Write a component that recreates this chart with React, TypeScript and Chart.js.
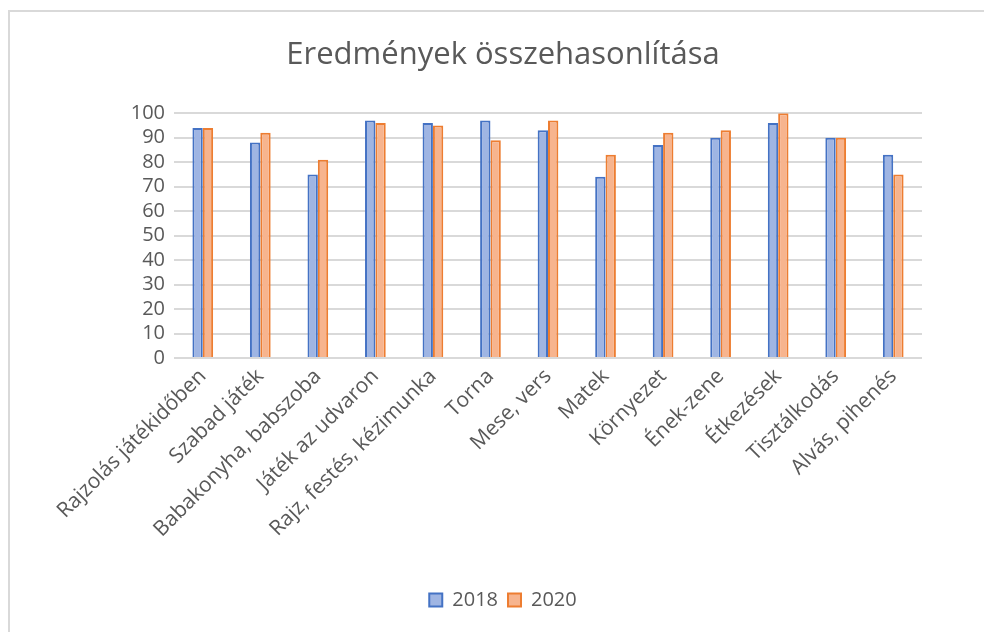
import React, { useEffect, useRef } from "react";
import { Chart, registerables } from "chart.js";

Chart.register(...registerables);

const categories = [
  "Rajzolás játékidőben",
  "Szabad játék",
  "Babakonyha, babszoba",
  "Játék az udvaron",
  "Rajz, festés, kézimunka",
  "Torna",
  "Mese, vers",
  "Matek",
  "Környezet",
  "Ének-zene",
  "Étkezések",
  "Tisztálkodás",
  "Alvás, pihenés",
];
const values2018 = [94, 88, 75, 97, 96, 97, 93, 74, 87, 90, 96, 90, 83];
const values2020 = [94, 92, 81, 96, 95, 89, 97, 83, 92, 93, 100, 90, 75];
const seriesNames = ["2018", "2020"];
const titleText = "Eredmények összehasonlítása";

const FONT = "'Open Sans', 'Noto Sans', sans-serif";
const GRAY = "#595959";

export default function App() {
  const ref = useRef<HTMLCanvasElement | null>(null);
  useEffect(() => {
    if (!ref.current) return;
    const chart = new Chart(ref.current, {
      type: "bar",
      data: {
        labels: categories,
        datasets: [
          {
            label: seriesNames[0],
            data: values2018,
            backgroundColor: "#9fb5e3",
            borderColor: "#4472c4",
            borderWidth: 2,
            categoryPercentage: 0.36,
            barPercentage: 1.0,
            yAxisID: "y",
          },
          {
            label: seriesNames[1],
            data: values2020,
            backgroundColor: "#f7b48e",
            borderColor: "#ed7d31",
            borderWidth: 2,
            categoryPercentage: 0.36,
            barPercentage: 1.0,
            yAxisID: "y",
          },
        ],
      },
      options: {
        responsive: false,
        animation: false,
        layout: { padding: { left: 12, right: 0, top: 8, bottom: 12 } },
        plugins: {
          title: {
            display: true,
            text: titleText,
            color: GRAY,
            font: { family: FONT, size: 31, weight: "normal" },
            padding: { top: 17, bottom: 39 },
          },
          legend: {
            position: "bottom",
            labels: {
              color: GRAY,
              font: { family: FONT, size: 20 },
              boxWidth: 13,
              boxHeight: 13,
              padding: 10,
            },
          },
          tooltip: { enabled: false },
        },
        scales: {
          x: {
            grid: { display: false, drawTicks: false },
            border: { display: false },
            ticks: {
              color: GRAY,
              font: { family: FONT, size: 21 },
              maxRotation: 45,
              minRotation: 45,
              autoSkip: false,
              padding: 6,
            },
            afterFit: (scale: any) => {
              scale.height = 222;
            },
          },
          y: {
            min: 0,
            max: 100,
            ticks: {
              stepSize: 10,
              autoSkip: false,
              color: GRAY,
              font: { family: FONT, size: 20, lineHeight: 1 },
              padding: 9,
            },
            grid: { color: "#d9d9d9", lineWidth: 2, drawTicks: false },
            border: { display: false },
            afterFit: (scale: any) => {
              scale.width = 152;
            },
          },
          yRight: {
            position: "right",
            display: true,
            min: 0,
            max: 100,
            grid: { display: false, drawTicks: false },
            border: { display: false },
            ticks: { display: false },
            afterFit: (scale: any) => {
              scale.width = 62;
            },
          },
        },
      },
    });
    return () => chart.destroy();
  }, []);
  return (
    <div
      style={{
        position: "fixed",
        left: 8,
        top: 10,
        width: 1000,
        height: 640,
        border: "2px solid #d9d9d9",
        background: "#fff",
      }}
    >
      <canvas ref={ref} width={974} height={620} style={{ display: "block" }} />
    </div>
  );
}
